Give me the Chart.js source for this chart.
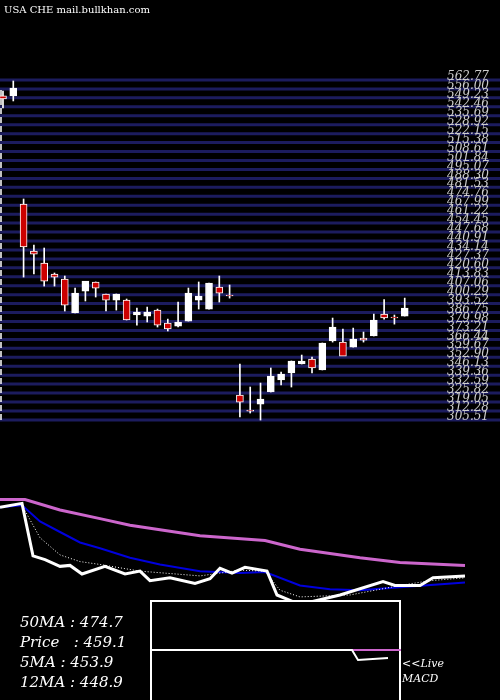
<!DOCTYPE html>
<html><head>
<script src="https://cdn.jsdelivr.net/npm/chart.js@4.4.0/dist/chart.umd.min.js"></script>
<style>
body{margin:0;background:#000;width:500px;height:700px;overflow:hidden;position:relative;font-family:"DejaVu Serif",serif}
canvas{position:absolute}
.t{position:absolute;color:#fff;font-style:italic;font-family:"DejaVu Serif",serif}
</style></head><body>
<canvas id="price" style="left:0px;top:0px" width="500" height="440"></canvas>
<canvas id="ma" style="left:0px;top:490px" width="500" height="210"></canvas>
<canvas id="macd" style="left:150px;top:600px" width="251" height="100"></canvas>
<div class="t" style="left:4px;top:4px;font-size:10px;font-style:normal">USA CHE mail.bullkhan.com</div>
<div class="t" style="left:20px;top:613px;font-size:15px">50MA : 474.7</div>
<div class="t" style="left:20px;top:633px;font-size:15px">Price &nbsp; : 459.1</div>
<div class="t" style="left:20px;top:653px;font-size:15px">5MA : 453.9</div>
<div class="t" style="left:20px;top:673px;font-size:15px">12MA : 448.9</div>
<div class="t" style="left:402px;top:657px;font-size:11px">&lt;&lt;Live</div>
<div class="t" style="left:402px;top:672px;font-size:11px">MACD</div>
<script>
// candle data: [open, high, low, close]
const opens  = [550.7,550.7,468.9,433.3,424.2,415.9,412.1,386.4,403.0,409.9,400.8,396.2,396.2,384.9,384.1,388.6,378.8,376.5,380.3,396.2,389.4,406.1,400.0,324.3,313.0,317.5,326.6,335.7,341.0,347.8,351.6,343.3,365.2,364.4,360.6,367.5,369.0,385.6,383.3,384.1];
const highs  = [554.4,562.0,472.7,437.9,435.6,416.7,414.4,405.3,409.1,409.9,400.8,400.8,397.0,390.1,390.9,389.4,381.8,394.7,405.3,409.9,409.1,414.4,407.6,347.8,330.4,333.4,344.8,341.7,350.1,354.6,353.1,363.7,382.6,374.3,375.0,372.0,385.6,396.5,384.9,397.7];
const lows   = [541.6,546.9,413.6,415.9,406.8,406.8,387.9,386.4,395.5,398.5,387.9,388.6,381.1,377.3,379.6,375.8,372.8,375.8,380.3,389.4,389.4,394.7,397.7,307.7,310.7,305.4,326.6,331.9,330.4,347.8,341.0,343.3,364.4,361.4,360.6,364.4,369.0,381.8,378.0,384.1];
const closes = [548.5,556.7,436.4,431.0,410.6,413.6,392.4,401.5,410.6,405.3,396.2,400.8,381.1,387.1,387.1,377.3,374.3,379.6,401.5,399.3,409.1,401.5,399.3,319.0,312.2,321.3,338.7,340.2,350.1,350.1,344.8,363.7,375.8,353.8,366.7,365.9,381.1,382.6,382.6,390.1];
const priceTicks = [562.77,556.00,549.23,542.46,535.69,528.92,522.15,515.38,508.61,501.84,495.07,488.30,481.53,474.76,467.99,461.22,454.45,447.68,440.91,434.14,427.37,420.60,413.83,407.06,400.29,393.52,386.75,379.98,373.21,366.44,359.67,352.90,346.13,339.36,332.59,325.82,319.05,312.28,305.51];

// moving average panel (indicator units)
const pinkX  = [0,25,60,100,130,200,265,300,360,400,465];
const pinkY  = [100,100,89,80,73,62,57,48,39,34,31];
const blueX  = [0,22,40,60,80,100,130,160,200,240,265,300,330,360,400,465];
const blueY  = [92,94,77,66,55,49,39,32,25,23,24,10,6,5,8,13];
const ma5X   = [22,40,60,80,100,140,200,240,265,280,300,350,400,430,465];
const ma5Y   = [94,60,42,35,32,25,20,26,25,5,-2,0,10,15,18];
const closeX = [0,22,33,45,60,70,82,105,125,140,150,170,195,210,220,232,245,267,277,300,340,383,395,420,433,465];
const closeY = [92,96,41,37,30,31,22,30,22,25,15,18,12,17,28,23,29,25,0,-10,0,14,10,10,18,20];
const macdX  = [0,202,208,238];
const macdY  = [0,0,-10,-8];

const wickData = opens.map((o,i)=>({x:i,y:[lows[i],highs[i]]}));
const bodyData = opens.map((o,i)=>({x:i,y:[o,closes[i]]}));
const bodyColors = opens.map((o,i)=>closes[i]<o?'#cc0000':'#ffffff');

const labelPlugin = {
  id:'rightLabels',
  afterDraw(c){
    const ctx=c.ctx, y=c.scales.y;
    ctx.save();ctx.fillStyle='#ccc';ctx.font='italic 12px "DejaVu Serif"';ctx.textBaseline='middle';
    priceTicks.forEach(v=>ctx.fillText(v.toFixed(2),447,y.getPixelForValue(v)-3));
    ctx.strokeStyle='#fff';ctx.setLineDash([6,3]);ctx.lineWidth=1.5;
    ctx.beginPath();ctx.moveTo(1,90);ctx.lineTo(1,420);ctx.stroke();
    ctx.restore();
  }
};
const gridPlugin = {
  id:'grid',
  beforeDatasetsDraw(c){
    const ctx=c.ctx, y=c.scales.y;
    ctx.save();ctx.strokeStyle='#1c1c5e';ctx.lineWidth=3;
    priceTicks.forEach(v=>{const p=y.getPixelForValue(v);ctx.beginPath();ctx.moveTo(0,p);ctx.lineTo(500,p);ctx.stroke();});
    ctx.restore();
  }
};

new Chart(document.getElementById('price'),{
  type:'bar',
  data:{datasets:[
    {data:wickData,backgroundColor:'#fff',barThickness:1,grouped:false,order:2},
    {data:bodyData,backgroundColor:bodyColors,borderColor:'#fff',borderWidth:1,borderSkipped:false,barThickness:7,grouped:false,order:1}
  ]},
  options:{responsive:false,animation:false,layout:{padding:0},
    plugins:{legend:{display:false},tooltip:{enabled:false}},
    scales:{x:{type:'linear',offset:false,min:-0.29,max:48.25,display:false},
            y:{min:290.3,max:623.3,display:false}}},
  plugins:[gridPlugin,labelPlugin]
});

const pts=(xs,ys)=>xs.map((x,i)=>({x,y:ys[i]}));
// first dataset is drawn on top
new Chart(document.getElementById('ma'),{
  type:'line',
  data:{datasets:[
    {data:pts(closeX,closeY),borderColor:'#fff',borderWidth:3,pointRadius:0},
    {data:pts(ma5X,ma5Y),borderColor:'#fff',borderWidth:1,borderDash:[1,2],pointRadius:0},
    {data:pts(blueX,blueY),borderColor:'#0000dd',borderWidth:2,pointRadius:0},
    {data:pts(pinkX,pinkY),borderColor:'#cc66cc',borderWidth:3,pointRadius:0}
  ]},
  options:{responsive:false,animation:false,layout:{padding:0},
    plugins:{legend:{display:false},tooltip:{enabled:false}},
    scales:{x:{type:'linear',min:0,max:500,display:false},y:{min:-110,max:110,display:false}}}
});

new Chart(document.getElementById('macd'),{
  type:'line',
  data:{datasets:[
    {data:pts(macdX,macdY),borderColor:'#fff',borderWidth:2,pointRadius:0},
    {data:[{x:0,y:0},{x:251,y:0}],borderColor:'#cc66cc',borderWidth:2,pointRadius:0}
  ]},
  options:{responsive:false,animation:false,layout:{padding:0},
    plugins:{legend:{display:false},tooltip:{enabled:false}},
    scales:{x:{type:'linear',min:0,max:251,display:false},y:{min:-50,max:50,display:false}}},
  plugins:[{id:'box',beforeDraw(c){const x=c.ctx;x.save();x.fillStyle='#000';x.fillRect(0,0,251,100);x.strokeStyle='#fff';x.lineWidth=2;x.strokeRect(1,1,249,100);x.restore();}}]
});
</script>
</body></html>
